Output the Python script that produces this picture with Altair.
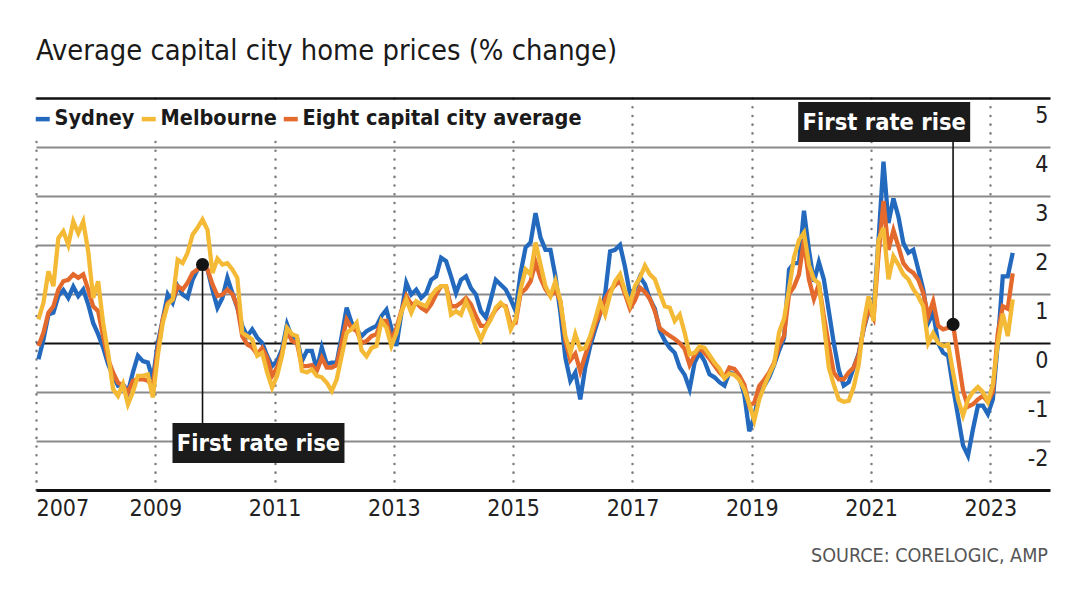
import altair as alt
import pandas as pd

FONT = "DejaVu Sans Condensed, DejaVu Sans, sans-serif"

# Monthly % change, Jan 2007 .. May 2023
sydney = [
    -0.33, 0.07, 0.58, 0.62, 0.96, 1.08, 0.92, 1.15, 0.96, 1.09,
    0.79, 0.41, 0.18, -0.09, -0.43, -0.67, -0.87, -0.84, -1.0, -0.6,
    -0.26, -0.37, -0.4, -0.74, 0.0, 0.48, 0.99, 0.82, 1.16, 0.99,
    0.92, 1.29, 1.5, 1.57, 1.5, 1.09, 0.72, 0.92, 1.33, 1.02,
    0.72, 0.35, 0.14, 0.28, 0.11, 0.0, -0.26, -0.47, -0.37, -0.13,
    0.38, 0.11, 0.11, -0.37, -0.16, -0.16, -0.54, -0.09, -0.43, -0.4,
    -0.4, 0.14, 0.72, 0.41, 0.28, 0.14, 0.24, 0.3, 0.35, 0.55,
    0.68, 0.3, -0.06, 0.6, 1.23, 0.99, 1.09, 0.92, 1.02, 1.29,
    1.36, 1.74, 1.67, 1.36, 1.02, 1.29, 1.36, 1.12, 0.99, 0.65,
    0.52, 0.89, 1.29, 1.19, 1.09, 0.89, 0.65, 1.43, 1.95, 2.05,
    2.65, 2.15, 1.9, 1.9, 1.36, 0.62, -0.3, -0.77, -0.6, -1.15,
    -0.5, -0.06, 0.28, 0.6, 1.0, 1.87, 1.9, 2.0, 1.55, 1.0,
    1.1, 1.35, 1.2, 0.9, 0.7, 0.25, 0.05, -0.1, -0.2, -0.5,
    -0.65, -0.94, -0.4, -0.2, -0.37, -0.64, -0.7, -0.8, -0.87, -0.6,
    -0.64, -0.7, -1.05, -1.8, -1.5, -1.0, -0.88, -0.7, -0.45, -0.15,
    0.1, 1.5, 1.63, 1.63, 2.7, 1.9, 1.25, 1.65, 1.3, 0.65,
    0.0, -0.55, -0.87, -0.8, -0.5, -0.22, 0.28, 0.65, 0.62, 2.1,
    3.7, 2.45, 2.95, 2.58, 2.04, 1.84, 1.9, 1.5, 1.09, 0.41,
    0.62, 0.0, -0.2, -0.26, -0.91, -1.49, -2.09, -2.3, -1.76, -1.28,
    -1.28, -1.45, -1.15, 0.0, 1.36, 1.36, 1.84,
]

melbourne = [
    0.48, 0.82, 1.46, 1.16, 2.14, 2.28, 2.0, 2.48, 2.24, 2.48,
    1.87, 0.92, 1.26, 0.41, -0.2, -0.94, -1.08, -0.84, -1.25, -1.0,
    -0.67, -0.67, -0.64, -1.11, -0.26, 0.41, 0.79, 0.89, 1.7, 1.63,
    1.84, 2.21, 2.35, 2.52, 2.31, 1.43, 1.72, 1.6, 1.63, 1.5,
    1.33, 0.21, 0.14, 0.07, -0.26, -0.2, -0.6, -0.91, -0.67, -0.26,
    0.31, 0.18, 0.14, -0.57, -0.6, -0.54, -0.67, -0.7, -0.81, -0.98,
    -0.74, -0.26, 0.21, 0.28, 0.41, -0.15, -0.27, -0.1, -0.06, 0.45,
    0.31, -0.06, 0.2, 0.62, 0.89, 0.62, 0.85, 0.79, 0.75, 0.96,
    1.09, 1.16, 1.16, 0.58, 0.65, 0.58, 0.85, 0.62, 0.31, 0.07,
    0.31, 0.48, 0.72, 0.82, 0.72, 0.28, 0.48, 1.1, 1.5, 1.4,
    2.05, 1.6, 1.16, 0.96, 1.26, 0.85, 0.14, -0.2, 0.18, -0.13,
    -0.1, 0.14, 0.48, 0.85, 0.58, 0.99, 1.26, 1.4, 1.06, 0.79,
    1.16, 1.33, 1.58, 1.4, 1.3, 1.02, 0.75, 0.72, 0.45, 0.58,
    0.21, -0.23, -0.2, -0.07, -0.1, -0.25, -0.4, -0.52, -0.72, -0.62,
    -0.65, -0.75, -0.95, -1.25, -1.58, -1.15, -0.88, -0.64, -0.43, 0.22,
    0.5, 1.1, 1.75, 2.1, 2.25, 1.6, 1.3, 1.22, 0.4, -0.5,
    -0.85, -1.15, -1.2, -1.18, -0.9, -0.45, 0.4, 0.95, 0.45, 2.1,
    2.35, 1.3, 1.77, 1.6, 1.4, 1.3, 1.1, 0.95, 0.75, 0.0,
    0.2, 0.0, -0.06, -0.03, -0.6, -1.15, -1.48, -1.15, -1.0, -0.9,
    -1.0, -1.2, -0.85, 0.0, 0.6, 0.14, 0.89,
]

average = [
    -0.06, 0.21, 0.62, 0.75, 1.09, 1.26, 1.29, 1.4, 1.33, 1.4,
    1.09, 0.75, 0.65, 0.14, -0.33, -0.6, -0.81, -0.87, -1.0, -0.77,
    -0.74, -0.74, -0.77, -0.87, -0.13, 0.48, 0.82, 0.89, 1.16, 1.09,
    1.23, 1.43, 1.5, 1.6, 1.5, 1.2, 0.96, 0.99, 1.09, 1.0,
    0.75, 0.14, -0.03, -0.09, -0.23, -0.1, -0.3, -0.67, -0.5, -0.2,
    0.24, 0.04, 0.0, -0.47, -0.47, -0.45, -0.57, -0.3, -0.5, -0.5,
    -0.45, 0.0, 0.48, 0.3, 0.25, 0.0, 0.04, 0.14, 0.18, 0.45,
    0.45, 0.05, 0.3, 0.65, 0.96, 0.79, 0.82, 0.72, 0.65, 0.79,
    0.99, 1.16, 1.16, 0.75, 0.75, 0.82, 0.92, 0.79, 0.55, 0.35,
    0.35, 0.52, 0.68, 0.79, 0.75, 0.38, 0.41, 1.02, 1.1, 1.26,
    1.65, 1.32, 1.1, 0.96, 1.08, 0.85, 0.05, -0.35, -0.22, -0.58,
    -0.25, 0.05, 0.38, 0.6, 0.9, 1.07, 1.18, 1.28, 1.0, 0.7,
    0.87, 1.13, 1.04, 0.9, 0.65, 0.3, 0.22, 0.15, 0.08, 0.0,
    -0.12, -0.45, -0.25, -0.1, -0.2, -0.32, -0.46, -0.6, -0.7, -0.5,
    -0.53, -0.66, -0.85, -1.28, -1.22, -0.88, -0.75, -0.6, -0.4, -0.05,
    0.15, 1.0, 1.15, 1.4, 2.1, 1.3, 0.9, 1.2, 0.55, -0.05,
    -0.6, -0.74, -0.74, -0.6, -0.5, -0.25, 0.3, 0.7, 0.5, 1.8,
    2.9, 1.9, 2.3, 1.97, 1.63, 1.5, 1.43, 1.29, 1.02, 0.55,
    0.85, 0.35, 0.28, 0.31, 0.38, -0.3, -0.97, -1.3, -1.25, -1.15,
    -1.08, -1.2, -1.0, 0.2, 0.75, 0.7, 1.42,
]

series_names = ["Sydney", "Melbourne", "Eight capital city average"]
series_colors = ["#2369be", "#f4b935", "#e4692d"]

year_ticks = [2007, 2009, 2011, 2013, 2015, 2017, 2019, 2021, 2023]
value_ticks = [-2, -1, 0, 1, 2, 3, 4, 5]

# Annotations: first rate rises (Oct 2009 = month 33, May 2022 = month 184)
ann_labels = ["First rate rise", "First rate rise"]
ann_month = [33, 184]
ann_box_year = [2010.73, 2021.22]
ann_box_value = [-2.04, 4.51]

source_text = "SOURCE: CORELOGIC, AMP"
title_text = "Average capital city home prices (% change)"

# ---------- tables ----------
rows = []
for name, vals in zip(series_names, [sydney, melbourne, average]):
    for m, v in enumerate(vals):
        rows.append({"series": name, "year": 2007 + (m + 0.5) / 12, "value": v})
df = pd.DataFrame(rows)

ann = pd.DataFrame({
    "label": ann_labels,
    "dot_year": [2007 + (m + 0.5) / 12 for m in ann_month],
    "dot_value": [average[m] for m in ann_month],
    "box_year": ann_box_year,
    "box_value": ann_box_value,
})

xscale = alt.Scale(domain=[2007, 2024], nice=False, zero=False)
yscale = alt.Scale(domain=[-3, 5], nice=False, zero=False)

xaxis = alt.Axis(
    values=year_ticks, format="d", title=None,
    grid=True, gridColor="#7d7d7d", gridDash=[0.1, 8.6], gridWidth=2.5, gridCap="round",
    domain=True, domainColor="#111111", domainWidth=3,
    ticks=False, labelPadding=7, labelFontSize=23, labelFont=FONT, labelColor="#222222",
    labelAlign={"condition": {"test": "datum.value <= 2007", "value": "left"}, "value": "center"},
)
yaxis = alt.Axis(
    orient="right", values=value_ticks, title=None,
    grid=True,
    gridColor={"condition": {"test": "datum.value === 0 || datum.value === 5", "value": "#111111"}, "value": "#8a8a8a"},
    gridWidth={"condition": {"test": "datum.value === 5", "value": 2.6}, "value": 2},
    domain=False, ticks=False,
    labelAlign="right", labelBaseline="top", labelPadding=-2, labelOffset=6,
    labelFontSize=23, labelFont=FONT, labelColor="#222222",
    labelExpr="'' + datum.value",
)

color = alt.Color(
    "series:N",
    scale=alt.Scale(domain=series_names, range=series_colors),
    legend=alt.Legend(
        orient="none", legendX=-12, legendY=2, direction="horizontal", title=None,
        symbolType="stroke", symbolStrokeWidth=4.5, symbolSize=196,
        labelFont=FONT, labelFontSize=21.5, labelFontWeight="bold", labelColor="#1a1a1a",
        labelOffset=1, columnPadding=-3, padding=8, fillColor="white", labelLimit=0,
    ),
)


def X(field):
    return alt.X(field, scale=xscale, axis=xaxis)


def Y(field):
    return alt.Y(field, scale=yscale, axis=yaxis)


def line_layer(name):
    return alt.Chart(df).transform_filter(alt.datum.series == name).mark_line(
        strokeWidth=4.3
    ).encode(x=X("year:Q"), y=Y("value:Q"), color=color)


lines = [
    line_layer("Sydney"),
    line_layer("Eight capital city average"),
    line_layer("Melbourne"),
]

annb = alt.Chart(ann)
connectors = annb.mark_rule(color="#111111", strokeWidth=1.6).encode(
    x=X("dot_year:Q"), y=Y("dot_value:Q"), y2="box_value:Q",
)
dots = annb.mark_circle(size=170, color="#141414", opacity=1).encode(
    x=X("dot_year:Q"), y=Y("dot_value:Q"),
)
box_shape = "M-1,-0.2326 L1,-0.2326 L1,0.2326 L-1,0.2326 Z"
boxes = annb.mark_point(shape=box_shape, size=172 * 172, filled=True, color="#1b1b1b",
                        opacity=1, strokeWidth=0).encode(
    x=X("box_year:Q"), y=Y("box_value:Q"),
)
box_text = annb.mark_text(color="white", font=FONT, fontSize=23.5, fontWeight="bold",
                          baseline="middle", dy=1).encode(
    x=X("box_year:Q"), y=Y("box_value:Q"), text="label:N",
)

source = alt.Chart(pd.DataFrame({"t": [source_text]})).mark_text(
    align="right", baseline="middle", font=FONT, fontSize=19.6, color="#555555"
).encode(x=alt.value(1012), y=alt.value(458), text="t:N")

title = alt.Chart(pd.DataFrame({"t": [title_text]})).mark_text(
    align="left", baseline="alphabetic", font=FONT, fontSize=28.8, color="#1a1a1a"
).encode(x=alt.value(0), y=alt.value(-38), text="t:N")

chart = alt.layer(*lines, connectors, dots, boxes, box_text, source, title).properties(
    width=1014,
    height=392,
    padding={"left": 28, "top": 90, "right": 10, "bottom": 80},
    autosize=alt.AutoSizeParams(type="none"),
).configure(font=FONT, background="white").configure_view(stroke=None)

chart.save("out.html", embed_options={"renderer": "svg", "actions": False})
